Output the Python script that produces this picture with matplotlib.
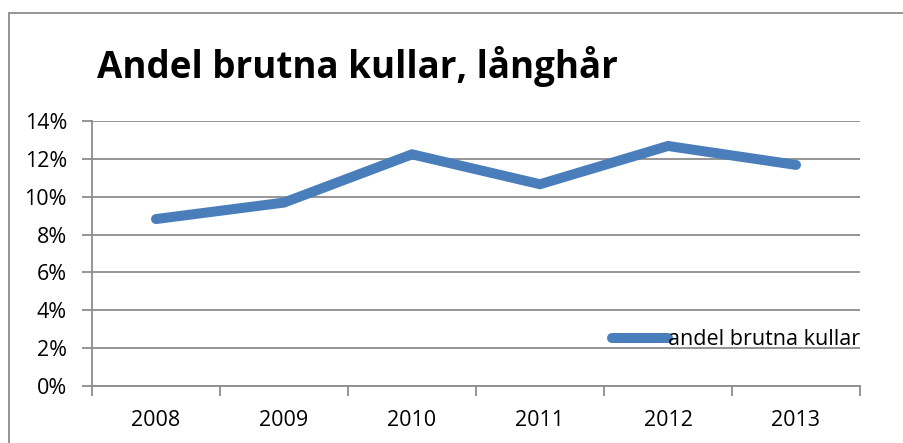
import matplotlib.pyplot as plt
from matplotlib.patches import Rectangle
from matplotlib.ticker import FuncFormatter, FixedLocator, NullFormatter

years = ['2008', '2009', '2010', '2011', '2012', '2013']
andel = [8.82, 9.69, 12.24, 10.66, 12.68, 11.68]  # procent

plt.rcParams['font.family'] = ['Open Sans', 'DejaVu Sans']

fig = plt.figure(figsize=(9.04, 4.43), dpi=100)
W, H = 904, 443
ax = fig.add_axes([92 / W, 1 - 386 / H, (860 - 92) / W, (386 - 121) / H])

# frame round the chart
fig.patches.append(Rectangle((8.5 / W, -0.1), 1.2, 1 - 12.5 / H + 0.1,
                             transform=fig.transFigure, fill=False,
                             edgecolor='#8c8c8c', linewidth=1.3))

x = list(range(len(years)))
line, = ax.plot(x, andel, color='#4a7ebb', linewidth=7.2,
                solid_capstyle='round', solid_joinstyle='miter',
                label='andel brutna kullar', zorder=3)

ax.set_xlim(-0.5, len(years) - 0.5)
ax.set_ylim(0, 14)
ax.set_yticks(range(0, 15, 2))
ax.yaxis.set_major_formatter(FuncFormatter(lambda v, p: '%d%%' % v))
ax.grid(axis='y', color='#8c8c8c', linewidth=1.3)
ax.set_axisbelow(True)

ax.xaxis.set_major_locator(FixedLocator([i - 0.5 for i in range(len(years) + 1)]))
ax.xaxis.set_major_formatter(NullFormatter())
ax.set_xticks(x, minor=True)
ax.set_xticklabels(years, minor=True)
ax.tick_params(axis='x', which='minor', length=0, pad=17, labelsize=15.5)
ax.tick_params(axis='x', which='major', length=7, width=1.3, color='#8c8c8c')
ax.tick_params(axis='y', length=7, width=1.3, color='#8c8c8c', pad=11, labelsize=15.5)

for s in ['top', 'right']:
    ax.spines[s].set_visible(False)
for s in ['left', 'bottom']:
    ax.spines[s].set_color('#8c8c8c')
    ax.spines[s].set_linewidth(1.3)

fig.text(97 / W, 1 - 78 / H, 'Andel brutna kullar, långhår', fontsize=26.5,
         fontweight='bold', ha='left', va='baseline')

leg = ax.legend(loc='lower right', bbox_to_anchor=(1.0, 0.135), frameon=False,
                fontsize=15.5, handlelength=2.6, handletextpad=0.0,
                borderaxespad=0, borderpad=0)

fig.savefig('out.png', dpi=100)
